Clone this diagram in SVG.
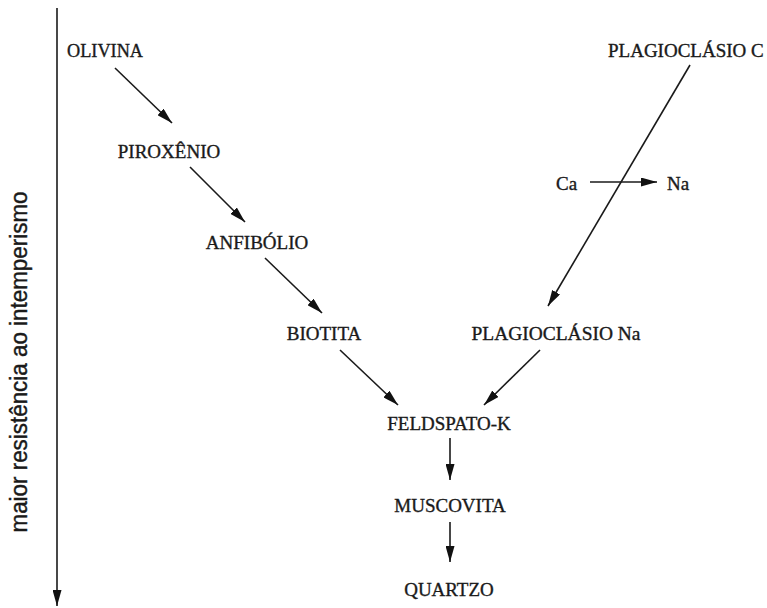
<svg xmlns="http://www.w3.org/2000/svg" width="767" height="608" viewBox="0 0 767 608">
<style>
.lbl{font-family:"Liberation Serif","Times New Roman",serif;font-size:19px;fill:#1a1a1a;stroke:#1a1a1a;stroke-width:0.35;text-anchor:middle}
.side{font-family:"Liberation Sans",Arial,sans-serif;font-size:23px;fill:#1a1a1a;stroke:#1a1a1a;stroke-width:0.4;text-anchor:middle}
.c{stroke:#1a1a1a;stroke-width:1.6;fill:none}
</style>
<defs>
<marker id="ah" viewBox="0 0 16 9" refX="16" refY="4.5" markerWidth="16" markerHeight="9" markerUnits="userSpaceOnUse" orient="auto">
<path d="M0,0 L16,4.5 L0,9 Z" fill="#111"/>
</marker>
</defs>
<rect width="767" height="608" fill="#fff"/>
<g id="axis">
<line class="c" x1="57" y1="8" x2="57" y2="606" marker-end="url(#ah)"/>
<text class="side" textLength="341" lengthAdjust="spacingAndGlyphs" transform="translate(27,362) rotate(-90)">maior resistência ao intemperismo</text>
</g>
<g id="connectors">
<line class="c" x1="115" y1="68" x2="172" y2="123" marker-end="url(#ah)"/>
<line class="c" x1="190" y1="167" x2="245" y2="222" marker-end="url(#ah)"/>
<line class="c" x1="265" y1="258" x2="322" y2="313" marker-end="url(#ah)"/>
<line class="c" x1="340" y1="350" x2="398" y2="405" marker-end="url(#ah)"/>
<line class="c" x1="540" y1="350" x2="484" y2="405" marker-end="url(#ah)"/>
<line class="c" x1="690" y1="65" x2="548" y2="306" marker-end="url(#ah)"/>
<line class="c" x1="590" y1="182" x2="657" y2="182" marker-end="url(#ah)"/>
<line class="c" x1="450" y1="438" x2="450" y2="480" marker-end="url(#ah)"/>
<line class="c" x1="450" y1="522" x2="450" y2="562" marker-end="url(#ah)"/>
</g>
<g id="olivina"><text class="lbl" x="105" y="57" textLength="76" lengthAdjust="spacingAndGlyphs">OLIVINA</text></g>
<g id="piroxenio"><text class="lbl" x="169" y="158">PIROXÊNIO</text></g>
<g id="anfibolio"><text class="lbl" x="257" y="249">ANFIBÓLIO</text></g>
<g id="biotita"><text class="lbl" x="324" y="340">BIOTITA</text></g>
<g id="plagioclasio-na"><text class="lbl" x="556" y="340" textLength="169" lengthAdjust="spacingAndGlyphs">PLAGIOCLÁSIO Na</text></g>
<g id="feldspato-k"><text class="lbl" x="449" y="430">FELDSPATO-K</text></g>
<g id="muscovita"><text class="lbl" x="450" y="512">MUSCOVITA</text></g>
<g id="quartzo"><text class="lbl" x="449" y="596">QUARTZO</text></g>
<g id="plagioclasio-c"><text class="lbl" x="608" y="57" style="text-anchor:start">PLAGIOCLÁSIO C</text></g>
<g id="ca"><text class="lbl" x="556" y="190" style="text-anchor:start">Ca</text></g>
<g id="na"><text class="lbl" x="667" y="190" style="text-anchor:start">Na</text></g>
</svg>
